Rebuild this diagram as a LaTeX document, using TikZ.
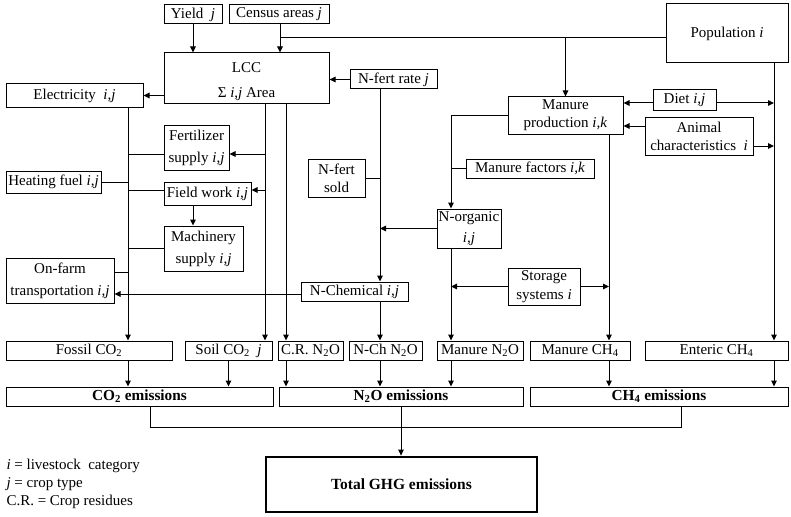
\documentclass[tikz,border=0pt]{standalone}
\usepackage{fontspec}
\setmainfont{Liberation Serif}
\usetikzlibrary{arrows.meta}

\begin{document}
\begin{tikzpicture}[x=1pt,y=-1pt,line width=1pt,
  box/.style={draw,inner sep=1pt,align=center,font=\fontsize{15}{20}\selectfont},
  arr/.style={-{Triangle[length=6pt,width=5.5pt]}}]
\useasboundingbox (0,0) rectangle (791,516);
\fill[white] (0,0) rectangle (791,516);
% inputs
\node[box,minimum width=58,minimum height=19] (yield) at (193,14.5) {Yield\ \ \textit{j}};
\node[box,minimum width=100,minimum height=19] (census) at (279,14.5) {Census areas \textit{j}};
\node[box,minimum width=122,minimum height=59] (pop) at (727,33.5) {Population \textit{i}};
\node[box,minimum width=165,minimum height=51,font=\fontsize{15}{25}\selectfont] (lcc) at (246.5,78.5) {\rule{0pt}{16pt}LCC\\ Σ \textit{i,j} Area};
\node[box,minimum width=137,minimum height=23] (elec) at (74.5,95.5) {Electricity\ \ \textit{i,j}};
\node[box,minimum width=87,minimum height=19] (nrate) at (393.5,79.5) {N-fert rate \textit{j}};
\node[box,minimum width=65,minimum height=45,font=\fontsize{15}{22}\selectfont] (fert) at (196.5,147.5) {Fertilizer\\ supply \textit{i,j}};
\node[box,minimum width=95,minimum height=22] (heat) at (53.5,182) {Heating fuel \textit{i,j}};
\node[box,minimum width=87,minimum height=23] (field) at (207.5,194) {Field work \textit{i,j}};
\node[box,minimum width=79,minimum height=45,font=\fontsize{15}{22}\selectfont] (mach) at (203.5,248.5) {Machinery\\ supply \textit{i,j}};
\node[box,minimum width=108,minimum height=45,font=\fontsize{15}{22}\selectfont] (farm) at (60,280.5) {On-farm\\ transportation \textit{i,j}};
\node[box,minimum width=57,minimum height=38,font=\fontsize{15}{18}\selectfont] (nsold) at (336.5,178) {N-fert\\ sold};
\node[box,minimum width=107,minimum height=19] (nchem) at (354.5,291.5) {N-Chemical \textit{i,j}};
\node[box,minimum width=115,minimum height=37,font=\fontsize{15}{18}\selectfont] (manp) at (565.5,115.5) {Manure\\ production \textit{i,k}};
\node[box,minimum width=63,minimum height=20] (diet) at (684.5,100) {Diet \textit{i,j}};
\node[box,minimum width=108,minimum height=38,font=\fontsize{15}{18}\selectfont] (anim) at (699,136) {Animal\\ characteristics\ \ \textit{i}};
\node[box,minimum width=128,minimum height=19] (mfac) at (530,168.5) {Manure factors \textit{i,k}};
\node[box,minimum width=64,minimum height=39,font=\fontsize{15}{21}\selectfont] (norg) at (469,228.5) {N-organic\\ \textit{i,j}};
\node[box,minimum width=72,minimum height=37,font=\fontsize{15}{19}\selectfont] (stor) at (544,286.5) {Storage\\ systems \textit{i}};
% sources
\node[box,minimum width=166,minimum height=19] (fossil) at (89,350.5) {Fossil CO\textsubscript{2}};
\node[box,minimum width=87,minimum height=19] (soil) at (228.5,350.5) {Soil CO\textsubscript{2}\ \ \textit{j}};
\node[box,minimum width=65,minimum height=19] (cr) at (310.5,350.5) {C.R. N\textsubscript{2}O};
\node[box,minimum width=73,minimum height=19] (nch) at (385.5,350.5) {N-Ch N\textsubscript{2}O};
\node[box,minimum width=86,minimum height=19] (mn2o) at (480,350.5) {Manure N\textsubscript{2}O};
\node[box,minimum width=100,minimum height=19] (mch4) at (580,350.5) {Manure CH\textsubscript{4}};
\node[box,minimum width=143,minimum height=19] (ent) at (716.5,350.5) {Enteric CH\textsubscript{4}};
% emissions
\node[box,minimum width=267,minimum height=19,font=\fontsize{15.3}{20}\selectfont\bfseries] (co2) at (139.5,396.5) {CO\textsubscript{2} emissions};
\node[box,minimum width=244,minimum height=19,font=\fontsize{15.3}{20}\selectfont\bfseries] (n2o) at (401,396.5) {N\textsubscript{2}O emissions};
\node[box,minimum width=258,minimum height=19,font=\fontsize{15.3}{20}\selectfont\bfseries] (ch4) at (659,396.5) {CH\textsubscript{4} emissions};
\node[box,line width=2.8pt,minimum width=271,minimum height=55,font=\fontsize{15.5}{20}\selectfont\bfseries] (total) at (401.5,484.5) {Total GHG emissions};
% legend
\node[anchor=west,inner sep=0pt,font=\fontsize{15}{20}\selectfont] (lgi) at (6,466) {\textit{i} = livestock\ \ category};
\node[anchor=west,inner sep=0pt,font=\fontsize{15}{20}\selectfont] (lgj) at (6,484) {\textit{j} = crop type};
\node[anchor=west,inner sep=0pt,font=\fontsize{15}{20}\selectfont] (lgc) at (6,502) {C.R. = Crop residues};
% bus lines
\coordinate (top) at (280,38);
\coordinate (lbus) at (128,0);
\coordinate (sbus) at (265,0);
\coordinate (cbus) at (286,0);
\coordinate (nbus) at (380,0);
\coordinate (obus) at (451,0);
\coordinate (mbus) at (609,0);
\coordinate (pbus) at (774,0);
\coordinate (jl) at (150,427);
\coordinate (jr) at (681,427);
% connectors
\draw[arr] (yield) -- (yield |- lcc.north);
\draw[arr] (census.south -| top) -- (lcc.north -| top);
\draw (top) -- (top -| pop.west);
\draw[arr] (top -| manp.north) -- (manp.north);
\draw[arr] (lcc.west |- elec.east) -- (elec.east);
\draw[arr] (nrate.west) -- (nrate.west -| lcc.east);
\draw[arr] (elec.south -| lbus) -- (fossil.north -| lbus);
\draw ([yshift=-6.5pt]fert.west) -- ([yshift=-6.5pt]fert.west -| lbus);
\draw (heat.east) -- (heat.east -| lbus);
\draw ([yshift=4pt]field.west) -- ([yshift=4pt]field.west -| lbus);
\draw (mach.west) -- (mach.west -| lbus);
\draw ([yshift=8.5pt]farm.east) -- ([yshift=8.5pt]farm.east -| lbus);
\draw[arr] (lcc.south -| sbus) -- (soil.north -| sbus);
\draw[arr] (lcc.south -| cbus) -- (cr.north -| cbus);
\draw[arr] ([yshift=-6.5pt]fert.east -| sbus) -- ([yshift=-6.5pt]fert.east);
\draw[arr] ([yshift=4pt]field.east -| sbus) -- ([yshift=4pt]field.east);
\draw[arr] (field.south -| yield) -- (mach.north -| yield);
\draw[arr] (nrate.south -| nbus) -- (nchem.north -| nbus);
\draw (nsold.east) -- (nsold.east -| nbus);
\draw[arr] ([yshift=-2.5pt]nchem.west) -- ([yshift=-2.5pt]nchem.west -| farm.east);
\draw[arr] (norg.west) -- (norg.west -| nbus);
\draw[arr] (nchem.south -| nbus) -- (nch.north -| nbus);
\draw[arr] (manp.west) -| (norg.north -| obus);
\draw (mfac.west) -- (mfac.west -| obus);
\draw[arr] (norg.south -| obus) -- (mn2o.north -| obus);
\draw[arr] (stor.west) -- (stor.west -| obus);
\draw[arr] (stor.east) -- (stor.east -| mbus);
\draw[arr] (manp.south -| mbus) -- (mch4.north -| mbus);
\draw[arr] ([yshift=-3pt]diet.west) -- ([yshift=-3pt]diet.west -| manp.east);
\draw[arr] ([yshift=-3pt]diet.east) -- ([yshift=-3pt]diet.east -| pbus);
\draw[arr] ([yshift=10pt]anim.west) -- ([yshift=10pt]anim.west -| manp.east);
\draw[arr] ([yshift=-10pt]anim.east) -- ([yshift=-10pt]anim.east -| pbus);
\draw[arr] (pop.south -| pbus) -- (ent.north -| pbus);
% to emissions
\draw[arr] (fossil.south -| lbus) -- (co2.north -| lbus);
\draw[arr] (soil.south) -- (soil.south |- co2.north);
\draw[arr] (cr.south -| cbus) -- (n2o.north -| cbus);
\draw[arr] (nch.south -| nbus) -- (n2o.north -| nbus);
\draw[arr] (mn2o.south -| obus) -- (n2o.north -| obus);
\draw[arr] (mch4.south -| mbus) -- (ch4.north -| mbus);
\draw[arr] (ent.south -| pbus) -- (ch4.north -| pbus);
\draw (co2.south -| jl) -- (jl) -- (jr) -- (ch4.south -| jr);
\draw[arr] (n2o.south) -- (n2o.south |- total.north);
\end{tikzpicture}
\end{document}
